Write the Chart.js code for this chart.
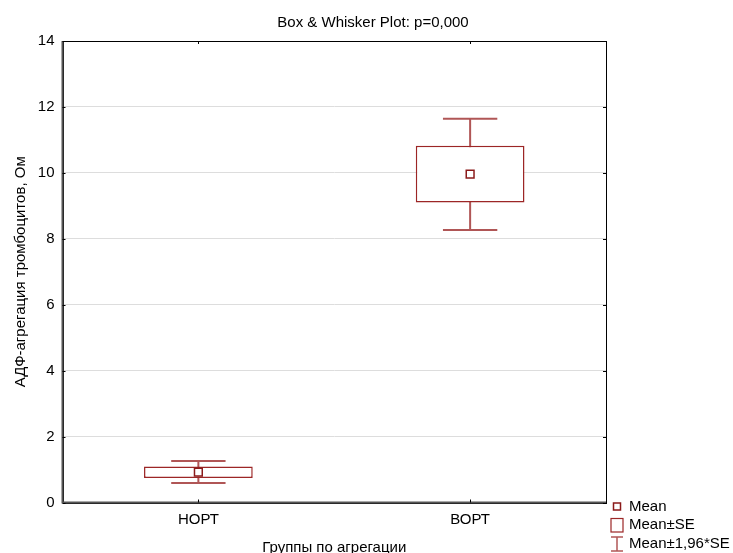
<!DOCTYPE html>
<html>
<head>
<meta charset="utf-8">
<title>АДФ-агрегация тромбоцитов</title>
<script src="https://cdn.jsdelivr.net/npm/chart.js@4.4.1/dist/chart.umd.min.js"></script>
<style>
  html, body { margin: 0; padding: 0; background: #fff; }
  #wrap { width: 733px; height: 553px; }
</style>
</head>
<body>
<div id="wrap"><canvas id="boxChart"></canvas></div>
<script>
// groups on the x axis
const groups = ['НОРТ', 'ВОРТ'];

// group means and the Mean±SE / Mean±1,96*SE limits
const means = [0.92, 9.96];
const seLow = [0.74, 9.10];
const seHigh = [1.09, 10.82];
const ciLow = [0.59, 8.27];
const ciHigh = [1.26, 11.64];

// y axis range and step
const yMin = 0;
const yMax = 14;
const yStep = 2;

const boxColor = '#9c2626';
const meanColor = '#8b1a1a';
const whiskerColor = 'rgba(150, 30, 30, 0.75)';

Chart.defaults.font.family = "'Liberation Sans', Arial, sans-serif";
Chart.defaults.font.size = 15;
Chart.defaults.color = '#000';

// whiskers go under the boxes, so the white box fill hides the stem
const whiskers = {
    id: 'whiskers',
    beforeDatasetsDraw(chart) {
        const { ctx, scales: { x, y } } = chart;
        const half = x.width / groups.length * 0.1;
        ctx.save();
        ctx.strokeStyle = whiskerColor;
        ctx.lineWidth = 2;
        groups.forEach((g, i) => {
            const px = x.getPixelForValue(i);
            const top = y.getPixelForValue(ciHigh[i]);
            const bot = y.getPixelForValue(ciLow[i]);
            ctx.beginPath();
            ctx.moveTo(px, top);
            ctx.lineTo(px, bot);
            ctx.moveTo(px - half, top);
            ctx.lineTo(px + half, top);
            ctx.moveTo(px - half, bot);
            ctx.lineTo(px + half, bot);
            ctx.stroke();
        });
        ctx.restore();
    }
};

// closed frame with short inward tick marks on all four sides
const frame = {
    id: 'frame',
    afterDraw(chart) {
        const { ctx, chartArea: a, scales: { x, y } } = chart;
        const t = 3;
        ctx.save();
        ctx.strokeStyle = '#000';
        ctx.lineWidth = 1;
        ctx.strokeRect(Math.round(a.left) + 0.5, Math.round(a.top) + 0.5,
            Math.round(a.right - a.left) - 1, Math.round(a.bottom - a.top));
        ctx.strokeStyle = '#555';
        ctx.lineWidth = 2;
        ctx.beginPath();
        ctx.moveTo(a.left, a.top);
        ctx.lineTo(a.left, a.bottom);
        ctx.lineTo(a.right, a.bottom);
        ctx.stroke();
        ctx.strokeStyle = '#000';
        ctx.lineWidth = 1;
        ctx.beginPath();
        y.ticks.forEach(tk => {
            const py = Math.round(y.getPixelForValue(tk.value)) + 0.5;
            ctx.moveTo(a.left, py);
            ctx.lineTo(a.left + t, py);
            ctx.moveTo(a.right - t, py);
            ctx.lineTo(a.right, py);
        });
        groups.forEach((g, i) => {
            const px = Math.round(x.getPixelForValue(i)) + 0.5;
            ctx.moveTo(px, a.top);
            ctx.lineTo(px, a.top + t);
            ctx.moveTo(px, a.bottom - t);
            ctx.lineTo(px, a.bottom);
        });
        ctx.stroke();
        ctx.restore();
    }
};

// legend in the bottom right corner, below the plot frame
const keyBox = {
    id: 'keyBox',
    afterDraw(chart) {
        const { ctx } = chart;
        const sx = 617, tx = 629;
        ctx.save();
        ctx.font = "15px 'Liberation Sans', Arial, sans-serif";
        ctx.fillStyle = '#000';
        ctx.textBaseline = 'middle';
        ctx.textAlign = 'left';

        ctx.strokeStyle = meanColor;
        ctx.lineWidth = 1.5;
        ctx.strokeRect(sx - 3.5, 503, 7, 7);
        ctx.fillText('Mean', tx, 507);

        ctx.strokeStyle = boxColor;
        ctx.lineWidth = 1.2;
        ctx.strokeRect(sx - 6, 518.5, 12, 13.5);
        ctx.fillText('Mean±SE', tx, 525);

        ctx.strokeStyle = whiskerColor;
        ctx.lineWidth = 1.5;
        ctx.beginPath();
        ctx.moveTo(sx, 537);
        ctx.lineTo(sx, 551);
        ctx.moveTo(sx - 6, 537);
        ctx.lineTo(sx + 6, 537);
        ctx.moveTo(sx - 6, 551);
        ctx.lineTo(sx + 6, 551);
        ctx.stroke();
        ctx.fillText('Mean±1,96*SE', tx, 544);
        ctx.restore();
    }
};

const ctx = document.getElementById('boxChart').getContext('2d');
const boxChart = new Chart(ctx, {
    type: 'bar',
    data: {
        labels: groups,
        datasets: [
            {
                label: 'Mean±SE',
                data: seLow.map((lo, i) => [lo, seHigh[i]]),
                backgroundColor: '#fff',
                borderColor: boxColor,
                borderWidth: 1.5,
                borderSkipped: false,
                barPercentage: 0.4,
                categoryPercentage: 1.0,
                order: 2
            },
            {
                type: 'line',
                label: 'Mean',
                data: means,
                showLine: false,
                pointStyle: 'rect',
                pointRadius: 5.5,
                pointBorderWidth: 1.5,
                pointBackgroundColor: '#fff',
                pointBorderColor: meanColor,
                order: 1
            }
        ]
    },
    options: {
        responsive: true,
        maintainAspectRatio: false,
        animation: false,
        events: [],
        layout: { padding: { left: 13, right: 0, top: 0, bottom: 0 } },
        plugins: {
            legend: { display: false },
            tooltip: { enabled: false },
            title: {
                display: true,
                text: 'Box & Whisker Plot: p=0,000',
                color: '#000',
                font: { size: 15, weight: 'normal' },
                padding: { top: 13.5, bottom: 9.5 }
            }
        },
        scales: {
            x: {
                offset: true,
                grid: { display: false, drawTicks: false },
                border: { display: false },
                ticks: { padding: 8, font: { size: 15 } },
                title: {
                    display: true,
                    text: 'Группы по агрегации',
                    font: { size: 15 },
                    padding: { top: 0, bottom: -4 }
                },
                afterFit: s => { s.height = 50.5; }
            },
            y: {
                min: yMin,
                max: yMax,
                ticks: { stepSize: yStep, padding: 8, font: { size: 15 } },
                grid: { color: '#dddddd', drawTicks: false },
                border: { display: false },
                title: {
                    display: true,
                    text: 'АДФ-агрегация тромбоцитов, Ом',
                    font: { size: 15 },
                    padding: { top: -1, bottom: 0 }
                },
                afterFit: s => { s.width = 49.5; }
            },
            // empty right-hand axis keeps room for the legend
            side: {
                position: 'right',
                min: yMin,
                max: yMax,
                grid: { display: false, drawTicks: false },
                border: { display: false },
                ticks: { display: false },
                afterFit: s => { s.width = 127; }
            }
        }
    },
    plugins: [whiskers, frame, keyBox]
});
</script>
</body>
</html>
